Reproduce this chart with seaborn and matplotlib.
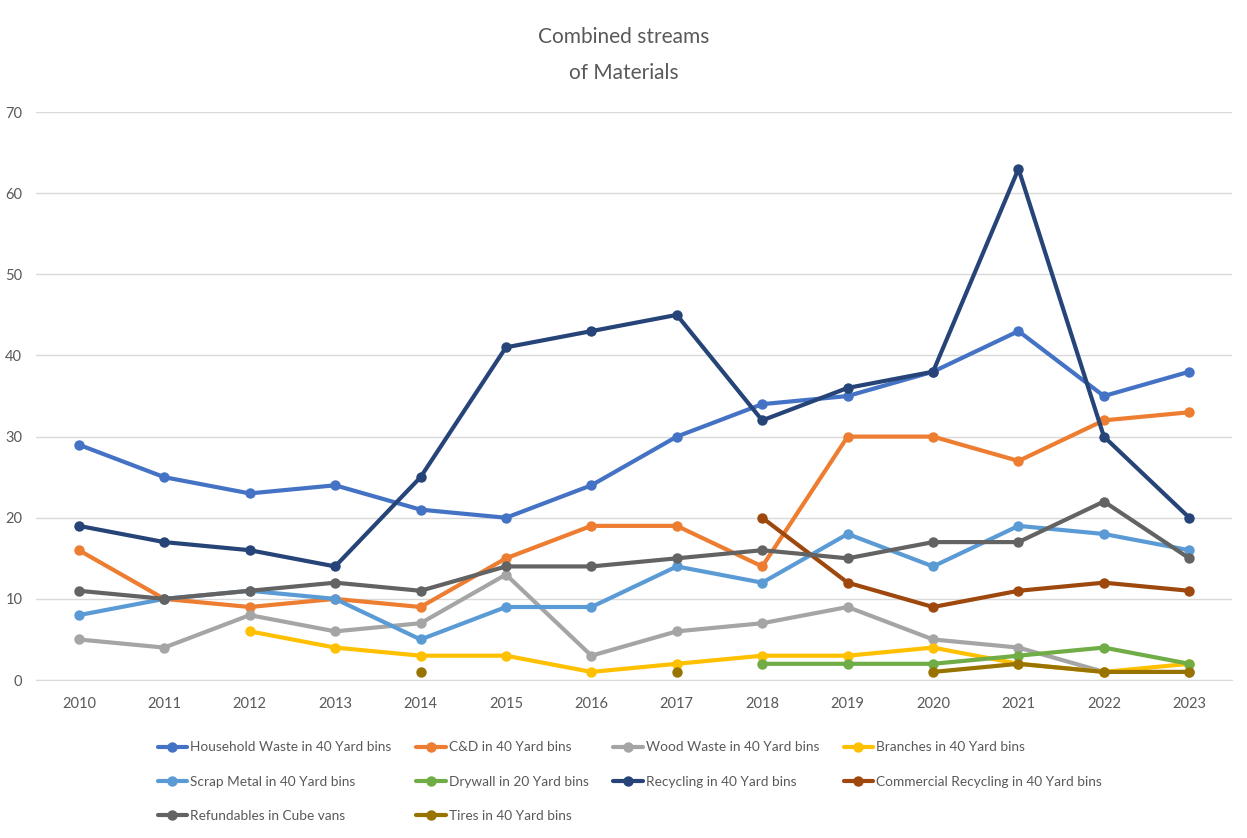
import numpy as np
import pandas as pd
import seaborn as sns
from matplotlib import pyplot as plt

years = list(range(2010, 2024))

household = [29, 25, 23, 24, 21, 20, 24, 30, 34, 35, 38, 43, 35, 38]
cnd = [16, 10, 9, 10, 9, 15, 19, 19, 14, 30, 30, 27, 32, 33]
wood = [5, 4, 8, 6, 7, 13, 3, 6, 7, 9, 5, 4, 1, 1]
branches = [None, None, 6, 4, 3, 3, 1, 2, 3, 3, 4, 2, 1, 2]
scrap = [8, 10, 11, 10, 5, 9, 9, 14, 12, 18, 14, 19, 18, 16]
drywall = [None] * 8 + [2, 2, 2, 3, 4, 2]
recycling = [19, 17, 16, 14, 25, 41, 43, 45, 32, 36, 38, 63, 30, 20]
commercial = [None] * 8 + [20, 12, 9, 11, 12, 11]
refundables = [11, 10, 11, 12, 11, 14, 14, 15, 16, 15, 17, 17, 22, 15]
tires = [None, None, None, None, 1, None, None, 1, None, None, 1, 2, 1, 1]

series = {
    "Household Waste in 40 Yard bins": household,
    "C&D in 40 Yard bins": cnd,
    "Wood Waste in 40 Yard bins": wood,
    "Branches in 40 Yard bins": branches,
    "Scrap Metal in 40 Yard bins": scrap,
    "Drywall in 20 Yard bins": drywall,
    "Recycling in 40 Yard bins": recycling,
    "Commercial Recycling in 40 Yard bins": commercial,
    "Refundables in Cube vans": refundables,
    "Tires in 40 Yard bins": tires,
}
colors = ["#4472C4", "#ED7D31", "#A5A5A5", "#FFC000", "#5B9BD5",
          "#70AD47", "#264478", "#9E480E", "#636363", "#997300"]

# long table, gaps split into separate segments so lines don't bridge them
rows = []
seg = 0
for name, vals in series.items():
    prev = None
    for yr, v in zip(years, vals):
        if v is None:
            prev = None
            continue
        if prev is None:
            seg += 1
        rows.append({"year": yr, "value": v, "series": name, "seg": seg})
        prev = v
df = pd.DataFrame(rows)

sns.set_style("white")
plt.rcParams["font.family"] = ["Lato", "DejaVu Sans"]

fig = plt.figure(figsize=(12.47, 8.38), dpi=100)
ax = fig.add_axes([0.029, 0.1885, 0.959, 0.6778])

names = list(series.keys())
sns.lineplot(data=df, x="year", y="value", hue="series", units="seg",
             estimator=None, hue_order=names, palette=colors, marker="o",
             markersize=7.5, markeredgewidth=0, linewidth=3, ax=ax,
             legend=False, sort=True)

ax.set_xlim(2009.5, 2023.5)
ax.set_ylim(0, 70)
ax.set_xticks(years)
ax.set_yticks(range(0, 71, 10))
ax.tick_params(axis="both", colors="#595959", labelsize=10.5, length=0)
ax.tick_params(axis="y", pad=10)
ax.tick_params(axis="x", pad=12)
ax.yaxis.grid(True, color="#D9D9D9", linewidth=1)
ax.set_axisbelow(True)
for s in ["top", "right", "left"]:
    ax.spines[s].set_visible(False)
ax.spines["bottom"].set_color("#D9D9D9")
ax.set_xlabel("")
ax.set_ylabel("")

fig.text(0.5, 0.968, "Combined streams\nof Materials", ha="center", va="top",
         fontsize=15, color="#595959", linespacing=2.0)

# legend: matplotlib fills columns, so reorder to get Excel's row order
handles = [plt.Line2D([], [], color=c, lw=3, marker="o", markersize=7.5,
                      markeredgewidth=0) for c in colors]
order = [0, 4, 8, 1, 5, 9, 2, 6, 3, 7]
fig.legend([handles[i] for i in order], [names[i] for i in order],
           loc="upper center", bbox_to_anchor=(0.505, 0.13), ncol=4,
           frameon=False, fontsize=9.8, labelcolor="#595959",
           handlelength=2.2, handletextpad=0.2, columnspacing=1.8,
           labelspacing=1.65)

fig.savefig("out.png", dpi=100)
